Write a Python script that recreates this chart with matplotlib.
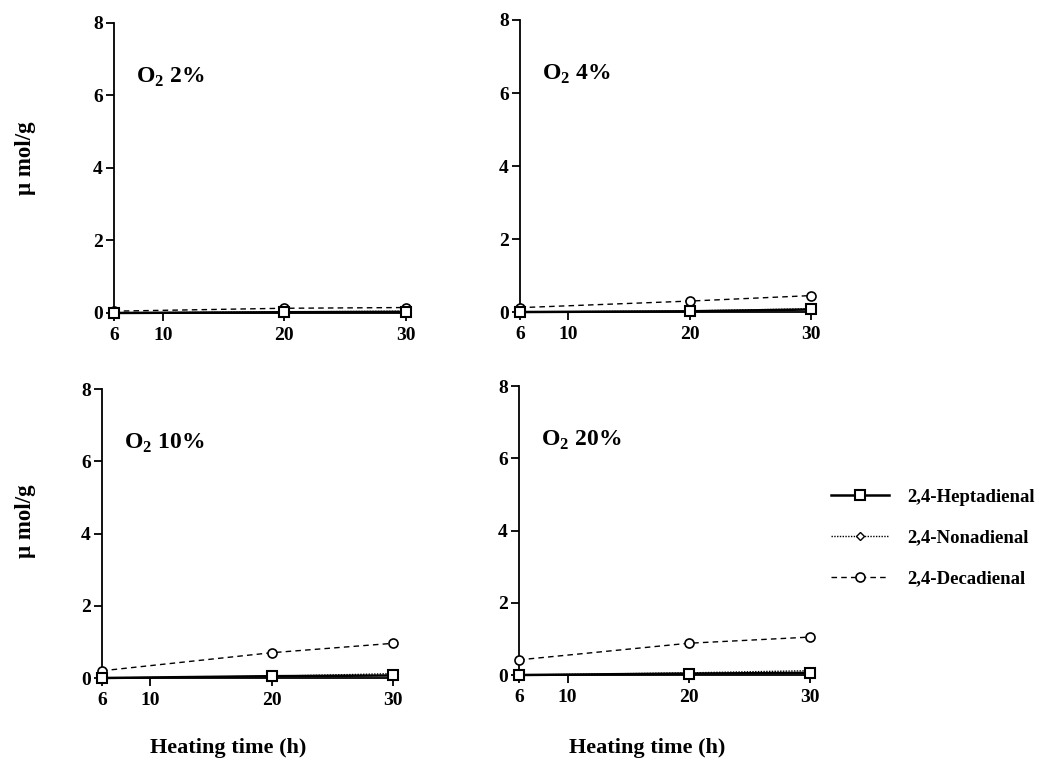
import matplotlib
matplotlib.use("Agg")
import matplotlib.pyplot as plt

plt.rcParams['font.family'] = ['Liberation Serif', 'DejaVu Serif']
plt.rcParams['font.weight'] = 'bold'
plt.rcParams['mathtext.fontset'] = 'custom'
plt.rcParams['mathtext.rm'] = 'Liberation Serif:bold'
plt.rcParams['mathtext.bf'] = 'Liberation Serif:bold'

hours = [6, 20, 30]
panel_titles = ["2%", "4%", "10%", "20%"]
series_names = ["2,4-Heptadienal", "2,4-Nonadienal", "2,4-Decadienal"]

hept = [[0.0, 0.02, 0.03], [0.0, 0.02, 0.07], [0.0, 0.05, 0.07], [0.0, 0.04, 0.06]]
nona = [[0.0, 0.03, 0.05], [0.0, 0.03, 0.09], [0.0, 0.05, 0.12], [0.0, 0.06, 0.12]]
deca = [[0.05, 0.13, 0.15], [0.12, 0.30, 0.45], [0.20, 0.70, 0.96], [0.42, 0.88, 1.05]]

xticks = [6, 10, 20, 30]
yticks = [0, 2, 4, 6, 8]

fig = plt.figure(figsize=(10.5, 7.84), dpi=100)
positions = [
    [0.1086, 0.6008, 0.2781, 0.3699],
    [0.4952, 0.6020, 0.2771, 0.3725],
    [0.0971, 0.1352, 0.2771, 0.3686],
    [0.4943, 0.1390, 0.2771, 0.3686],
]

handles = None
for i, pos in enumerate(positions):
    ax = fig.add_axes(pos)
    h3, = ax.plot(hours, deca[i], color='black', ls=(0, (4, 3)), lw=1.0,
                  marker='o', ms=6.5, mfc='white', mec='black', mew=1.2, clip_on=False, zorder=3)
    h2, = ax.plot(hours, nona[i], color='black', ls=(0, (1, 1)), lw=1.0,
                  marker='D', ms=4.5, mfc='white', mec='black', mew=1.0, clip_on=False, zorder=4)
    h1, = ax.plot(hours, hept[i], color='black', ls='-', lw=1.8,
                  marker='s', ms=7, mfc='white', mec='black', mew=1.5, clip_on=False, zorder=5)
    handles = [h1, h2, h3]
    ax.set_xlim(6, 30)
    ax.set_ylim(0, 8)
    ax.set_xticks(xticks)
    ax.set_yticks(yticks)
    ax.spines['top'].set_visible(False)
    ax.spines['right'].set_visible(False)
    ax.spines['left'].set_linewidth(1.3)
    ax.spines['bottom'].set_linewidth(1.3)
    ax.tick_params(axis='both', direction='out', length=6, width=1.3, labelsize=14)
    ax.tick_params(axis='x', pad=4)
    ax.tick_params(axis='y', pad=2)
    for lab in ax.get_xticklabels() + ax.get_yticklabels():
        lab.set_fontweight('bold')
    ax.text(7.8, 6.5, r"O$_{2}$ " + panel_titles[i], fontsize=17, fontweight='bold',
            va='center', ha='left')

fig.text(25 / 1050, 0.798, "μ mol/g", rotation=90, fontsize=16.5, fontweight='bold',
         ha='center', va='center')
fig.text(25 / 1050, 0.335, "μ mol/g", rotation=90, fontsize=16.5, fontweight='bold',
         ha='center', va='center')
fig.text(228 / 1050, 0.046, "Heating time (h)", fontsize=16, fontweight='bold',
         ha='center', va='center')
fig.text(647 / 1050, 0.046, "Heating time (h)", fontsize=16, fontweight='bold',
         ha='center', va='center')

leg = fig.legend(handles, series_names, loc='center left',
                 bbox_to_anchor=(825 / 1050, 1 - 538 / 784), frameon=False,
                 handlelength=3.1, labelspacing=1.25, handletextpad=1.0,
                 borderpad=0.3, borderaxespad=0.0,
                 prop={'weight': 'bold', 'size': 13.5})

fig.savefig("out.png", dpi=100)
